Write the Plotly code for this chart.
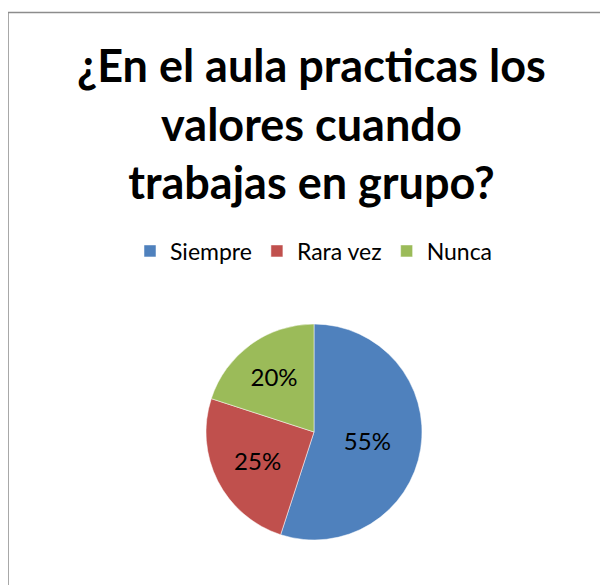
import plotly.graph_objects as go

categories = ["Siempre", "Rara vez", "Nunca"]
values = [55, 25, 20]
colors = ["#4F81BD", "#C0504D", "#9BBB59"]
title_lines = ["¿En el aula practicas los", "valores cuando", "trabajas en grupo?"]

OFF = 8  # browser body margin
W, H = 608 - OFF, 585 - OFF
cx, cy, r = 314 - OFF, 432 - OFF, 108

fig = go.Figure(go.Pie(
    labels=categories, values=values, sort=False, direction="clockwise",
    rotation=0, marker=dict(colors=colors, line=dict(color="white", width=0.5)),
    textinfo="percent", textposition="inside", insidetextorientation="horizontal",
    textfont=dict(family="Lato", size=24, color="black"),
    domain=dict(x=[(cx - r) / W, (cx + r) / W], y=[(H - cy - r) / H, (H - cy + r) / H]),
    showlegend=True,
))

fig.update_layout(
    width=W, height=H, margin=dict(l=0, r=0, t=0, b=0),
    paper_bgcolor="white", plot_bgcolor="white",
    legend=dict(orientation="h", x=(314 - OFF) / W, xanchor="center", y=(H - (251 - OFF)) / H, yanchor="middle",
                font=dict(family="Lato", size=23, color="black"), itemwidth=30,
                traceorder="normal"),
    annotations=[dict(text="<b>" + "<br>".join(title_lines) + "</b>", x=(311 - OFF) / W, y=(H - (124 - OFF)) / H,
                      xref="paper", yref="paper", xanchor="center", yanchor="middle",
                      showarrow=False, font=dict(family="Lato", size=45, color="black"))],
    shapes=[dict(type="rect", xref="paper", yref="paper", x0=0, x1=1.05, y0=-0.05, y1=(H - (12.5 - OFF)) / H,
                 line=dict(color="#8c8c8c", width=1.5))],
)

fig.write_html("out.html")
